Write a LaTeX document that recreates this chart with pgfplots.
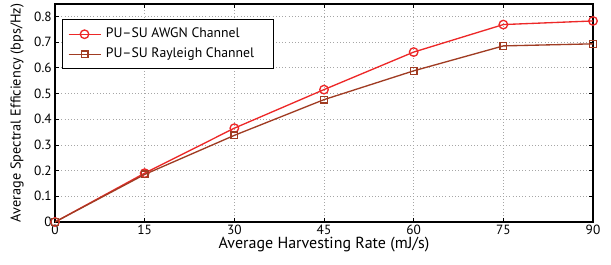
\documentclass[border=0pt]{standalone}
\usepackage{pgfplots}
\pgfplotsset{compat=1.18}
\usepackage{fontspec}
\setmainfont{PT Sans}
\definecolor{awgn}{RGB}{237,40,40}
\definecolor{ray}{RGB}{160,60,35}
\begin{document}
\begin{tikzpicture}
\begin{axis}[
  name=ax,
  scale only axis,
  width=403.5pt, height=163.5pt,
  xmin=0, xmax=90, ymin=0, ymax=0.848,
  xtick={0,15,30,45,60,75,90},
  ytick={0,0.1,0.2,0.3,0.4,0.5,0.6,0.7,0.8},
  yticklabels={0,0.1,0.2,0.3,0.4,0.5,0.6,0.7,0.8},
  /pgf/number format/assume math mode=true,
  tick align=inside,
  major tick length=3pt,
  tick style={black, thin},
  grid=major,
  major grid style={dotted, gray!70},
  axis line style={black, line width=1.2pt},
  xlabel={Average Harvesting Rate (mJ/s)},
  ylabel={Average Spectral Efficiency (bps/Hz)},
  xlabel style={font=\fontsize{12}{14}\selectfont, yshift=5pt},
  ylabel style={font=\fontsize{10.7}{13}\selectfont, yshift=1pt},
  tick label style={font=\fontsize{10}{12}\selectfont},
  xticklabel style={yshift=1pt},
  yticklabel style={xshift=1pt},
  legend style={at={(0.013,0.931)}, anchor=north west, draw=black, line width=0.8pt,
    font=\fontsize{10.3}{12}\selectfont, row sep=0pt, inner xsep=4pt, inner ysep=3.5pt,
    nodes={inner sep=2.5pt, text depth=0.25em, text height=0.75em},
    /tikz/every odd column/.style={column sep=1pt}},
  legend cell align=left,
  legend image code/.code={\draw[mark repeat=2,mark phase=2,#1] plot coordinates {(0pt,0pt) (12pt,0pt) (24pt,0pt)};},
]
\addplot[awgn, line width=1pt, mark=o, mark size=3.2pt, mark options={solid}] coordinates {
(0,0) (15,0.19) (30,0.365) (45,0.515) (60,0.661) (75,0.768) (90,0.782)};
\addlegendentry{\makebox[119pt][l]{PU--SU AWGN Channel}}
\addplot[ray, line width=1pt, mark=square, mark size=2.5pt] coordinates {
(0,0) (15,0.185) (30,0.337) (45,0.476) (60,0.588) (75,0.685) (90,0.693)};
\addlegendentry{\makebox[119pt][l]{PU--SU Rayleigh Channel}}
\end{axis}
\pgfresetboundingbox
\path[use as bounding box] ([shift={(-41.25pt,-31.5pt)}]ax.south west) rectangle ([shift={(13.5pt,3pt)}]ax.north east);
\end{tikzpicture}
\end{document}
